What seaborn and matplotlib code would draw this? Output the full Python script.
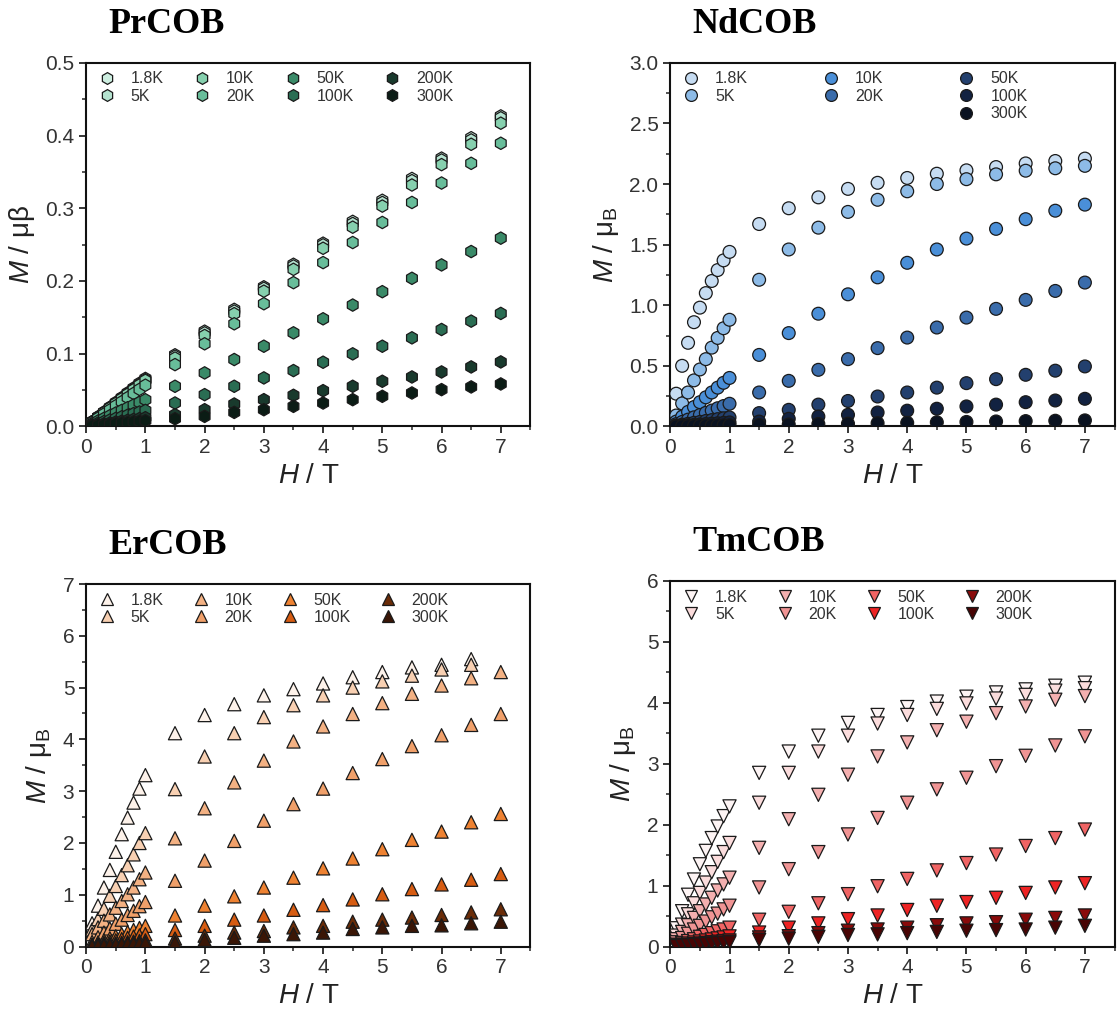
import numpy as np
import pandas as pd
import matplotlib
matplotlib.use('Agg')
import matplotlib.pyplot as plt
import seaborn as sns
from matplotlib.lines import Line2D
from matplotlib.ticker import MultipleLocator, FormatStrFormatter

sns.set_style('ticks')
plt.rcParams['font.family'] = ['Liberation Sans', 'DejaVu Sans']
plt.rcParams['mathtext.fontset'] = 'custom'
plt.rcParams['mathtext.rm'] = 'Liberation Sans'
plt.rcParams['mathtext.it'] = 'Liberation Sans:italic'

nan = np.nan

# field points (T)
H_FIELD = [0.1, 0.2, 0.3, 0.4, 0.5, 0.6, 0.7, 0.8, 0.9, 1.0,
           1.5, 2.0, 2.5, 3.0, 3.5, 4.0, 4.5, 5.0, 5.5, 6.0, 6.5, 7.0]

# PrCOB
pr_temps = ['1.8K', '5K', '10K', '20K', '50K', '100K', '200K', '300K']
pr_18 = [0.0066, 0.0132, 0.0198, 0.0264, 0.033, 0.0396, 0.0462, 0.0528, 0.0594, 0.066,
         0.0985, 0.131, 0.161, 0.192, 0.223, 0.252, 0.282, 0.311, 0.341, 0.369, 0.397, 0.427]
pr_5 = [0.0064, 0.0129, 0.0193, 0.0258, 0.0322, 0.0387, 0.0451, 0.0516, 0.058, 0.0645,
        0.0966, 0.1287, 0.1586, 0.19, 0.2207, 0.2497, 0.2791, 0.308, 0.338, 0.3664, 0.394, 0.4244]
pr_10 = [0.0063, 0.0126, 0.019, 0.0253, 0.0316, 0.038, 0.0443, 0.0506, 0.057, 0.0633,
         0.094, 0.125, 0.155, 0.186, 0.216, 0.245, 0.274, 0.303, 0.332, 0.36, 0.388, 0.417]
pr_20 = [0.0057, 0.0114, 0.017, 0.0227, 0.0284, 0.034, 0.0397, 0.0454, 0.051, 0.0567,
         0.085, 0.1136, 0.1411, 0.1687, 0.1977, 0.2253, 0.2529, 0.2805, 0.308, 0.3347, 0.3618, 0.3894]
pr_50 = [0.0037, 0.0074, 0.011, 0.0147, 0.0184, 0.022, 0.0257, 0.0294, 0.033, 0.0367,
         0.0552, 0.0736, 0.092, 0.1103, 0.1287, 0.148, 0.1669, 0.1853, 0.2037, 0.2221, 0.2405, 0.2589]
pr_100 = [0.0022, 0.0044, 0.0066, 0.0088, 0.011, 0.0132, 0.0154, 0.0176, 0.0198, 0.022,
          0.0322, 0.0437, 0.0552, 0.0667, 0.0768, 0.0883, 0.0998, 0.1103, 0.1218, 0.1333, 0.1448, 0.1554]
pr_200 = [0.0012, 0.0024, 0.0036, 0.0048, 0.006, 0.0072, 0.0084, 0.0096, 0.0108, 0.012,
          0.0161, 0.023, 0.0308, 0.0368, 0.0428, 0.0492, 0.0552, 0.0621, 0.068, 0.0749, 0.0818, 0.0887]
pr_300 = [0.0008, 0.0016, 0.0024, 0.0032, 0.004, 0.0048, 0.0056, 0.0064, 0.0072, 0.008,
          0.0106, 0.0138, 0.0193, 0.023, 0.0276, 0.0322, 0.0368, 0.0414, 0.046, 0.0506, 0.0543, 0.0584]
pr_colors = ['#cdeee0', '#b5e3d0', '#86d0ae', '#68bd9a', '#3a8a68', '#2a6d53', '#193a2d', '#0b1c15']

# NdCOB
nd_temps = ['1.8K', '5K', '10K', '20K', '50K', '100K', '300K']
nd_18 = [0.27, 0.50, 0.69, 0.86, 0.98, 1.10, 1.20, 1.29, 1.37, 1.44,
         1.67, 1.80, 1.89, 1.96, 2.01, 2.05, 2.085, 2.113, 2.14, 2.17, 2.19, 2.21]
nd_5 = [0.09, 0.19, 0.28, 0.38, 0.47, 0.555, 0.65, 0.73, 0.81, 0.88,
        1.21, 1.46, 1.64, 1.77, 1.87, 1.94, 2.0, 2.04, 2.08, 2.11, 2.13, 2.15]
nd_10 = [0.04, 0.08, 0.12, 0.16, 0.20, 0.24, 0.28, 0.32, 0.36, 0.40,
         0.59, 0.77, 0.93, 1.09, 1.23, 1.35, 1.46, 1.55, 1.63, 1.71, 1.78, 1.83]
nd_20 = [0.019, 0.037, 0.056, 0.075, 0.094, 0.112, 0.131, 0.15, 0.168, 0.187,
         0.28, 0.376, 0.467, 0.555, 0.646, 0.733, 0.816, 0.898, 0.97, 1.044, 1.118, 1.187]
nd_50 = [0.0075, 0.015, 0.022, 0.03, 0.037, 0.045, 0.052, 0.06, 0.067, 0.074,
         0.11, 0.137, 0.18, 0.21, 0.247, 0.28, 0.32, 0.357, 0.39, 0.426, 0.46, 0.495]
nd_100 = [0.0033, 0.0066, 0.01, 0.013, 0.0165, 0.02, 0.023, 0.026, 0.03, 0.033,
          0.04, 0.063, 0.082, 0.096, 0.115, 0.13, 0.146, 0.165, 0.18, 0.2, 0.214, 0.228]
nd_300 = [0.001, 0.002, 0.003, 0.004, 0.005, 0.006, 0.007, 0.008, 0.009, 0.01,
          0.012, 0.016, 0.02, 0.023, 0.027, 0.03, 0.034, 0.037, 0.041, 0.044, 0.047, 0.05]
nd_colors = ['#c6dcf2', '#8dbbe7', '#4a8fd8', '#3a6cab', '#23406e', '#122241', '#0a1220']

# ErCOB
er_temps = ['1.8K', '5K', '10K', '20K', '50K', '100K', '200K', '300K']
er_18 = [0.45, 0.79, 1.14, 1.48, 1.83, 2.17, 2.49, 2.78, 3.05, 3.31,
         4.12, 4.47, 4.68, 4.85, 4.97, 5.08, 5.2, 5.3, 5.39, 5.44, 5.55, nan]
er_5 = [0.33, 0.53, 0.73, 0.98, 1.17, 1.38, 1.57, 1.78, 2.0, 2.19,
        3.04, 3.67, 4.12, 4.43, 4.66, 4.85, 5.0, 5.12, 5.23, 5.35, 5.44, nan]
er_10 = [0.24, 0.37, 0.5, 0.62, 0.75, 0.88, 1.01, 1.14, 1.3, 1.43,
         2.09, 2.67, 3.17, 3.59, 3.96, 4.25, 4.49, 4.7, 4.88, 5.04, 5.18, 5.3]
er_20 = [0.09, 0.18, 0.27, 0.35, 0.44, 0.52, 0.61, 0.69, 0.78, 0.86,
         1.27, 1.66, 2.04, 2.43, 2.75, 3.05, 3.35, 3.62, 3.87, 4.08, 4.28, 4.49]
er_50 = [0.04, 0.08, 0.12, 0.16, 0.2, 0.24, 0.28, 0.32, 0.36, 0.4,
         0.6, 0.79, 0.97, 1.14, 1.33, 1.51, 1.70, 1.88, 2.06, 2.22, 2.4, 2.56]
er_100 = [0.024, 0.048, 0.072, 0.096, 0.12, 0.144, 0.168, 0.192, 0.216, 0.24,
          0.32, 0.4, 0.52, 0.6, 0.71, 0.8, 0.91, 1.01, 1.11, 1.2, 1.29, 1.40]
er_200 = [0.012, 0.024, 0.036, 0.048, 0.06, 0.072, 0.084, 0.096, 0.108, 0.12,
          0.155, 0.21, 0.27, 0.30, 0.37, 0.40, 0.48, 0.52, 0.56, 0.61, 0.66, 0.72]
er_300 = [0.007, 0.014, 0.021, 0.028, 0.035, 0.042, 0.049, 0.056, 0.063, 0.07,
          0.08, 0.13, 0.17, 0.21, 0.24, 0.27, 0.34, 0.37, 0.40, 0.41, 0.45, 0.48]
er_colors = ['#fdf2ea', '#f8d0b2', '#f3b183', '#f0a06a', '#ee8232', '#d65c12', '#6a2c08', '#3a1606']

# TmCOB
tm_temps = ['1.8K', '5K', '10K', '20K', '50K', '100K', '200K', '300K']
tm_18 = [0.3, 0.58, 0.85, 1.1, 1.35, 1.57, 1.78, 1.97, 2.14, 2.3,
         2.85, 3.2, 3.46, 3.67, 3.8, 3.93, 4.02, 4.1, 4.17, 4.22, 4.28, 4.33]
tm_5 = [0.18, 0.36, 0.53, 0.71, 0.88, 1.05, 1.22, 1.39, 1.55, 1.7,
        2.36, 2.85, 3.2, 3.46, 3.66, 3.8, 3.9, 3.99, 4.07, 4.13, 4.2, 4.24]
tm_10 = [0.12, 0.24, 0.35, 0.47, 0.58, 0.69, 0.8, 0.92, 1.02, 1.13,
         1.62, 2.09, 2.49, 2.82, 3.12, 3.35, 3.55, 3.69, 3.83, 3.94, 4.05, 4.11]
tm_20 = [0.07, 0.14, 0.21, 0.28, 0.34, 0.41, 0.48, 0.54, 0.61, 0.67,
         0.97, 1.27, 1.55, 1.84, 2.11, 2.36, 2.58, 2.77, 2.96, 3.13, 3.3, 3.45]
tm_50 = [0.03, 0.06, 0.09, 0.12, 0.16, 0.19, 0.22, 0.25, 0.28, 0.31,
         0.44, 0.57, 0.71, 0.86, 0.99, 1.11, 1.25, 1.37, 1.51, 1.65, 1.78, 1.92]
tm_100 = [0.017, 0.034, 0.05, 0.067, 0.084, 0.1, 0.117, 0.134, 0.15, 0.167,
          0.23, 0.31, 0.38, 0.45, 0.51, 0.6, 0.67, 0.73, 0.8, 0.88, 0.97, 1.04]
tm_200 = [0.01, 0.02, 0.03, 0.04, 0.05, 0.06, 0.07, 0.08, 0.09, 0.1,
          0.15, 0.17, 0.22, 0.26, 0.28, 0.31, 0.35, 0.38, 0.4, 0.44, 0.47, 0.51]
tm_300 = [0.007, 0.014, 0.021, 0.028, 0.035, 0.042, 0.049, 0.056, 0.063, 0.07,
          0.11, 0.13, 0.16, 0.19, 0.2, 0.22, 0.24, 0.26, 0.27, 0.28, 0.31, 0.34]
tm_colors = ['#fdf4f4', '#fbdcdc', '#f4b0b0', '#f09494', '#f06464', '#ee2424', '#8a0a0a', '#480404']


def long_df(temps, series):
    rows = []
    for t, vals in zip(temps, series):
        for h, m in zip(H_FIELD, vals):
            rows.append({'H': h, 'M': m, 'T': t})
    return pd.DataFrame(rows).dropna()


def draw_panel(ax, title, temps, series, colors, marker, size, ylim, ymaj, ymin_, yfmt,
               ylabel, ncol, colspace, blanks=None):
    df = long_df(temps, series)
    sns.scatterplot(data=df, x='H', y='M', hue='T', hue_order=temps,
                    palette=colors, marker=marker, s=size, edgecolor='#1a1a1a',
                    linewidth=0.9, ax=ax, legend=True, zorder=3)

    leg = ax.get_legend()
    handles = list(leg.legend_handles)
    labels = [t.get_text() for t in leg.get_texts()]
    leg.remove()
    for h in handles:
        h.set_markersize(8.5)
        h.set_markeredgecolor('#1a1a1a')
        h.set_markeredgewidth(0.9)
    if blanks:
        for pos in blanks:
            handles.insert(pos, Line2D([], [], linestyle='none', marker=None))
            labels.insert(pos, '')
    ax.legend(handles, labels, ncol=ncol, loc='upper left', bbox_to_anchor=(0.025, 0.985),
              frameon=False, fontsize=11.5, handlelength=0.8, handletextpad=1.1,
              columnspacing=colspace, labelspacing=0.15, borderpad=0.2, borderaxespad=0,
              labelcolor='#333333')

    ax.set_xlim(0, 7.5)
    ax.set_ylim(*ylim)
    ax.xaxis.set_major_locator(MultipleLocator(1))
    ax.xaxis.set_minor_locator(MultipleLocator(0.5))
    ax.yaxis.set_major_locator(MultipleLocator(ymaj))
    ax.yaxis.set_minor_locator(MultipleLocator(ymin_))
    ax.yaxis.set_major_formatter(FormatStrFormatter(yfmt))
    ax.tick_params(which='major', direction='out', length=5, width=1.3, labelsize=15,
                   labelcolor='#333333', top=False, right=False)
    ax.tick_params(which='minor', direction='out', length=3, width=1.1, top=False, right=False)
    for sp in ax.spines.values():
        sp.set_visible(True)
        sp.set_linewidth(1.5)
        sp.set_color('#111111')

    ax.set_xlabel(r'$H$ / T', fontsize=20, color='#222222', labelpad=4)
    ax.set_ylabel(ylabel, fontsize=20, color='#222222', labelpad=6)
    ax.set_title(title, fontsize=26, fontweight='bold', family='Liberation Serif',
                 loc='left', x=0.05, y=1.06, color='black')


def gen_plots():
    fig = plt.figure(figsize=(11.19, 10.30), dpi=100)
    fig.patch.set_facecolor('white')

    ax1 = fig.add_axes([0.077, 0.586, 0.397, 0.353])
    ax2 = fig.add_axes([0.599, 0.586, 0.397, 0.353])
    ax3 = fig.add_axes([0.077, 0.081, 0.397, 0.352])
    ax4 = fig.add_axes([0.599, 0.081, 0.397, 0.355])

    draw_panel(ax1, 'PrCOB', pr_temps,
               [pr_18, pr_5, pr_10, pr_20, pr_50, pr_100, pr_200, pr_300],
               pr_colors, 'h', 80, (0, 0.5), 0.1, 0.05, '%.1f',
               r'$M$ / μβ', 4, 2.0)
    draw_panel(ax2, 'NdCOB', nd_temps,
               [nd_18, nd_5, nd_10, nd_20, nd_50, nd_100, nd_300],
               nd_colors, 'o', 85, (0, 3.0), 0.5, 0.25, '%.1f',
               r'$M$ / μ$_\mathrm{B}$', 3, 4.8, blanks=[2, 5])
    draw_panel(ax3, 'ErCOB', er_temps,
               [er_18, er_5, er_10, er_20, er_50, er_100, er_200, er_300],
               er_colors, '^', 90, (0, 7), 1, 0.5, '%d',
               r'$M$ / μ$_\mathrm{B}$', 4, 1.9)
    draw_panel(ax4, 'TmCOB', tm_temps,
               [tm_18, tm_5, tm_10, tm_20, tm_50, tm_100, tm_200, tm_300],
               tm_colors, 'v', 90, (0, 6), 1, 0.5, '%d',
               r'$M$ / μ$_\mathrm{B}$', 4, 1.9)

    fig.savefig('out.png', dpi=100, facecolor='w')
    plt.close(fig)


if __name__ == '__main__':
    gen_plots()
